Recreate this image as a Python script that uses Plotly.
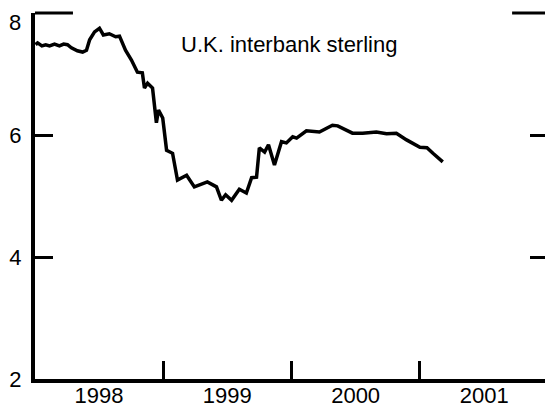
import plotly.graph_objects as go

# Data (U.K. interbank sterling rate, percent)
dates = [
    "1998-01-03", "1998-01-09", "1998-01-21", "1998-02-01", "1998-02-12", "1998-02-26",
    "1998-03-12", "1998-03-24", "1998-04-04", "1998-04-15", "1998-05-02", "1998-05-17",
    "1998-05-28", "1998-06-06", "1998-06-20", "1998-07-04", "1998-07-15", "1998-08-01",
    "1998-08-19", "1998-08-30", "1998-09-16", "1998-10-03", "1998-10-20", "1998-11-03",
    "1998-11-09", "1998-11-18", "1998-12-02", "1998-12-13", "1998-12-19", "1998-12-31",
    "1999-01-11", "1999-01-28", "1999-02-11", "1999-03-09", "1999-03-31", "1999-05-07",
    "1999-06-02", "1999-06-16", "1999-06-28", "1999-07-15", "1999-08-06", "1999-08-26",
    "1999-09-10", "1999-09-24", "1999-10-02", "1999-10-17", "1999-10-28", "1999-11-14",
    "1999-12-04", "1999-12-18", "2000-01-05", "2000-01-16", "2000-02-13", "2000-03-21",
    "2000-04-27", "2000-05-12", "2000-06-23", "2000-07-22", "2000-08-30", "2000-09-28",
    "2000-10-26", "2000-11-24", "2001-01-01", "2001-01-21", "2001-02-07", "2001-03-07",
]
rates = [
    7.48, 7.51, 7.46, 7.48, 7.46, 7.49,
    7.46, 7.49, 7.48, 7.43, 7.38, 7.36,
    7.39, 7.56, 7.69, 7.75, 7.64, 7.66,
    7.61, 7.62, 7.39, 7.23, 7.03, 7.02,
    6.77, 6.85, 6.77, 6.20, 6.41, 6.28,
    5.75, 5.70, 5.26, 5.34, 5.15, 5.23,
    5.15, 4.93, 5.02, 4.93, 5.11, 5.05,
    5.30, 5.31, 5.79, 5.72, 5.84, 5.51,
    5.89, 5.87, 5.97, 5.95, 6.07, 6.05,
    6.16, 6.15, 6.03, 6.03, 6.05, 6.02,
    6.03, 5.92, 5.80, 5.79, 5.70, 5.56,
]

y_ticks = [2, 4, 6, 8]
y_tick_text = ["2", "4", "6", ""]
title_text = "U.K. interbank sterling"

FONT = "Liberation Sans, Arial, sans-serif"
FS = 22

fig = go.Figure()
fig.add_trace(go.Scatter(
    x=dates, y=rates, mode="lines",
    line=dict(color="black", width=3.5),
    showlegend=False, hoverinfo="skip",
))

# page body has an 8px margin, so the figure is sized to fit the window
fig.update_layout(
    width=545, height=403,
    margin=dict(l=27, r=5, t=5, b=32),
    paper_bgcolor="white", plot_bgcolor="white",
    font=dict(family=FONT, size=FS, color="black"),
    showlegend=False,
)

fig.update_xaxes(
    type="date",
    range=["1998-01-01 12:00", "2001-12-31 12:00"],
    tick0="1998-01-01", dtick="M12",
    tickformat="%Y", ticklabelmode="period",
    ticks="inside", ticklen=18, tickwidth=3, tickcolor="black",
    showline=True, linewidth=4, linecolor="black", mirror=False,
    showgrid=False, zeroline=False, automargin=False,
    tickfont=dict(family=FONT, size=FS, color="black"),
    ticklabelstandoff=-6,
)
fig.update_yaxes(
    range=[2, 8],
    tickvals=y_ticks, ticktext=y_tick_text,
    ticks="inside", ticklen=18, tickwidth=3, tickcolor="black",
    showline=True, linewidth=4, linecolor="black", mirror="ticks",
    showgrid=False, zeroline=False, automargin=False,
    tickfont=dict(family=FONT, size=FS, color="black"),
    ticklabelstandoff=5,
)

# longer tick marks at the top value (8) on both sides
fig.add_shape(type="line", xref="paper", yref="paper", x0=0, x1=0.074, y0=1, y1=1,
              line=dict(color="black", width=3))
fig.add_shape(type="line", xref="paper", yref="paper", x0=0.93, x1=1, y0=1, y1=1,
              line=dict(color="black", width=3))

# top tick label, slightly lowered as in the original
fig.add_annotation(x=0, xref="paper", y=8, yref="y", text="8", showarrow=False,
                   xanchor="right", yanchor="middle", xshift=-12, yshift=-9,
                   font=dict(family=FONT, size=FS, color="black"))

fig.add_annotation(x=0.496, xref="paper", y=0.914, yref="paper", text=title_text,
                   showarrow=False, xanchor="center", yanchor="middle",
                   font=dict(family=FONT, size=FS, color="black"))

fig.write_html("out.html")
